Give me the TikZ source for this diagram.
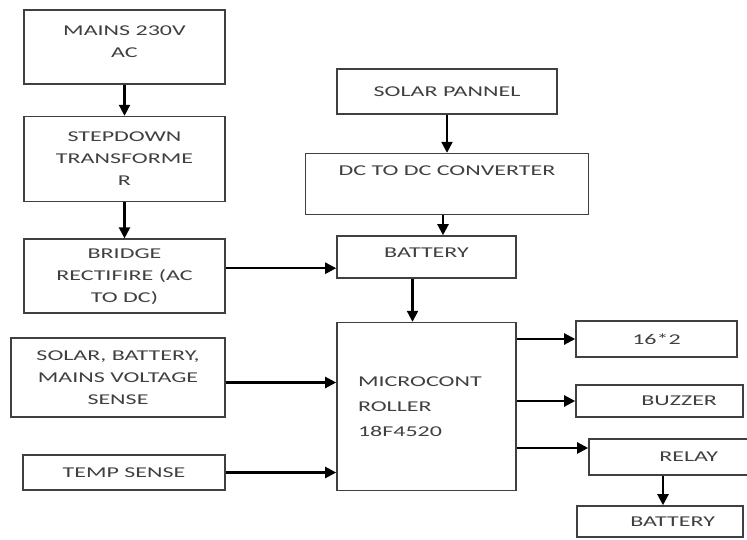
\documentclass[tikz,border=0pt]{standalone}
\usepackage{fontspec}
\setmainfont{Carlito}[FakeStretch=1.6]
\usetikzlibrary{
	arrows.meta,
	positioning,
	calc
}

\begin{document}
\begin{tikzpicture}[
			x=1pt, y=-1pt,
			font=\fontsize{15}{22}\selectfont,
			blk/.style={draw=black!75, line width=1.6pt, text=black!75, align=center, inner sep=0pt},
			>={Triangle[length=11pt,width=11pt]},
			fl/.style={->, line width=2.2pt}
		]
		\useasboundingbox (0,0) rectangle (747,539);

		% mains supply side
		\node[blk, minimum width=201pt, minimum height=74pt, text height=32pt, text depth=12pt] (mains) at (124.5,47) {MAINS 230V\\AC};
		\node[blk, minimum width=201pt, minimum height=85pt, below=31pt of mains] (stepdn) {STEPDOWN\\TRANSFORME\\R};
		\node[blk, minimum width=201pt, minimum height=74pt, below=36pt of stepdn] (bridge) {BRIDGE\\RECTIFIRE (AC\\TO DC)};
		\node[blk, minimum width=214pt, minimum height=79pt] (sense) at (118,377.5) {SOLAR, BATTERY,\\MAINS VOLTAGE\\SENSE};
		\node[blk, minimum width=202pt, minimum height=35pt] (temp) at (124,472.5) {TEMP SENSE};

		% solar side
		\node[blk, minimum width=220pt, minimum height=45pt] (solar) at (447,91.5) {SOLAR PANNEL};
		\node[blk, minimum width=283pt, minimum height=61pt, text height=10pt, text depth=27pt, below=38pt of solar] (dcdc) {DC TO DC CONVERTER};
		\node[blk, minimum width=179pt, minimum height=42pt, text height=10pt, text depth=10pt] (batt) at (426.5,257) {BATTERY};
		\node[blk, minimum width=179pt, minimum height=168pt, text width=137pt, align=left, font=\fontsize{15}{25}\selectfont, below=43pt of batt] (mcu) {MICROCONT\\ROLLER\\18F4520};

		% outputs
		\node[blk, minimum width=161pt, minimum height=36pt] (lcd) at (656.5,339) {16*2};
		\node[blk, minimum width=167pt, minimum height=32pt, text width=115pt, align=right] (buzz) at (659.5,401) {BUZZER};
		\node[blk, minimum width=163pt, minimum height=36pt, text width=95pt, align=right] (relay) at (670.5,457) {RELAY};
		\node[blk, minimum width=166pt, minimum height=31pt, text width=110pt, align=right] (batout) at (660,521.5) {BATTERY};

		\coordinate (rlin) at ($(relay.north west)!0.26!(relay.south west)$);

		\draw[fl] (mains) -- (stepdn);
		\draw[fl] (stepdn) -- (bridge);
		\draw[fl] ([yshift=8pt]bridge.east) -- ([yshift=8pt]bridge.east -| batt.west);
		\draw[fl] (solar) -- (solar |- dcdc.north);
		\draw[fl] ([xshift=-4pt]dcdc.south) -- ([xshift=-4pt]dcdc.south |- batt.north);
		\draw[fl] ([xshift=-14pt]batt.south) -- ([xshift=-14pt]mcu.north);
		\draw[fl] ([yshift=-5pt]sense.east) -- ([yshift=-5pt]sense.east -| mcu.west);
		\draw[fl] (temp.east) -- (temp.east -| mcu.west);
		\draw[fl] (mcu.east |- lcd.west) -- (lcd.west);
		\draw[fl] (mcu.east |- buzz.west) -- (buzz.west);
		\draw[fl] (mcu.east |- rlin) -- (rlin);
		\draw[fl] ([xshift=3pt]batout.north |- relay.south) -- ([xshift=3pt]batout.north);
	\end{tikzpicture}
\end{document}
